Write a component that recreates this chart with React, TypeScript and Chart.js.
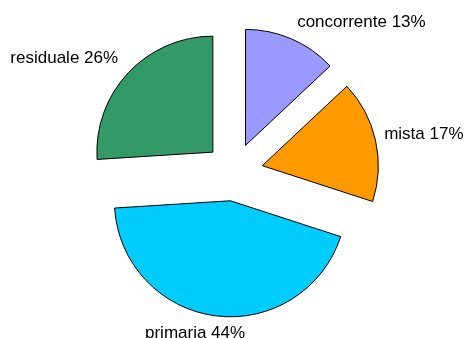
import React, { useEffect, useRef } from "react";
import { Chart, registerables } from "chart.js";

Chart.register(...registerables);

const categories = ["concorrente", "mista", "primaria", "residuale"];
const values = [13, 17, 44, 26];
const colors = ["#9999FF", "#FF9900", "#00CCFF", "#339966"];

const EXPLODE = 29;
const FONT = '17px "Liberation Sans", Arial, sans-serif';
// label alignment and small nudges relative to computed anchor
const labelAlign: CanvasTextAlign[] = ["left", "left", "center", "right"];
const labelNudge = [
  [0, -4],
  [-5, -3],
  [-19, 4],
  [0, -5],
];

const explodePlugin = {
  id: "explode",
  beforeDatasetDraw(chart: any, args: any) {
    const ctx = chart.ctx;
    args.meta.data.forEach((arc: any) => {
      const mid = (arc.startAngle + arc.endAngle) / 2;
      ctx.save();
      ctx.translate(Math.cos(mid) * EXPLODE, Math.sin(mid) * EXPLODE);
      arc.draw(ctx);
      ctx.restore();
    });
    return false;
  },
  afterDatasetsDraw(chart: any) {
    const ctx = chart.ctx;
    const meta = chart.getDatasetMeta(0);
    ctx.save();
    ctx.font = FONT;
    ctx.fillStyle = "#000";
    ctx.textBaseline = "middle";
    meta.data.forEach((arc: any, i: number) => {
      const mid = (arc.startAngle + arc.endAngle) / 2;
      const r = arc.outerRadius + EXPLODE + 14;
      const x = arc.x + Math.cos(mid) * r + labelNudge[i][0];
      const y = arc.y + Math.sin(mid) * r + labelNudge[i][1];
      ctx.textAlign = labelAlign[i];
      ctx.fillText(`${categories[i]} ${values[i]}%`, x, y);
    });
    ctx.restore();
  },
};

export default function App() {
  const ref = useRef<HTMLCanvasElement>(null);
  useEffect(() => {
    if (!ref.current) return;
    const chart = new Chart(ref.current, {
      type: "pie",
      data: {
        labels: categories,
        datasets: [
          {
            data: values,
            backgroundColor: colors,
            borderColor: "#000000",
            borderWidth: 1,
            borderJoinStyle: "miter",
          },
        ],
      },
      options: {
        animation: false,
        responsive: true,
        maintainAspectRatio: false,
        radius: 116,
        layout: { padding: { left: 3, top: 6, right: 0, bottom: 0 } },
        plugins: {
          legend: { display: false },
          tooltip: { enabled: false },
        },
        events: [],
      } as any,
      plugins: [explodePlugin],
    });
    return () => chart.destroy();
  }, []);
  return (
    <div style={{ position: "absolute", left: 0, top: 0, width: 465, height: 338, background: "#fff" }}>
      <canvas ref={ref} />
    </div>
  );
}
